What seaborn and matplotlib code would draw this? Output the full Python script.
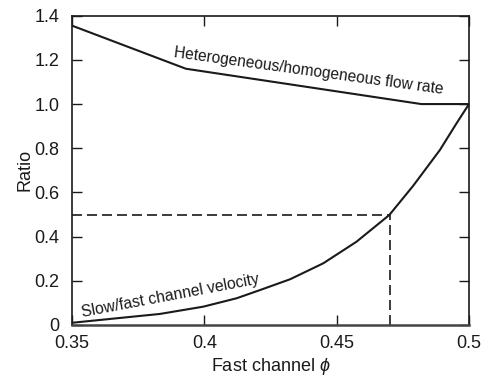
import matplotlib
matplotlib.use("Agg")
import matplotlib.pyplot as plt
import seaborn as sns
import pandas as pd

# Data
phi_upper = [0.35, 0.393, 0.482, 0.5]
ratio_upper = [1.355, 1.16, 1.0, 1.0]

phi_lower = [0.35, 0.3707, 0.3832, 0.3996, 0.4122, 0.4210, 0.4324, 0.4449,
             0.4575, 0.4699, 0.4789, 0.4890, 0.4953, 0.5]
ratio_lower = [0.010, 0.035, 0.050, 0.083, 0.121, 0.158, 0.207, 0.279,
               0.377, 0.498, 0.630, 0.792, 0.913, 1.0]

ref_phi = 0.47
ref_ratio = 0.5

x_ticks = [0.35, 0.4, 0.45, 0.5]
x_ticklabels = ["0.35", "0.4", "0.45", "0.5"]
y_ticks = [0, 0.2, 0.4, 0.6, 0.8, 1.0, 1.2, 1.4]
y_ticklabels = ["0", "0.2", "0.4", "0.6", "0.8", "1.0", "1.2", "1.4"]

label_upper = "Heterogeneous/homogeneous flow rate"
label_lower = "Slow/fast channel velocity"

sns.set_theme(style="ticks")
plt.rcParams['font.family'] = ['Liberation Sans', 'DejaVu Sans']
plt.rcParams['mathtext.fontset'] = 'custom'
plt.rcParams['mathtext.it'] = 'Liberation Sans:italic'
plt.rcParams['mathtext.rm'] = 'Liberation Sans'

fig = plt.figure(figsize=(4.84, 3.81), dpi=100)
ax = fig.add_axes([0.1488, 0.147, 0.8202, 0.8118])

df_u = pd.DataFrame({"phi": phi_upper, "ratio": ratio_upper})
df_l = pd.DataFrame({"phi": phi_lower, "ratio": ratio_lower})

sns.lineplot(data=df_u, x="phi", y="ratio", ax=ax, color="#1a1a1a", lw=1.5,
             sort=True, estimator=None)
sns.lineplot(data=df_l, x="phi", y="ratio", ax=ax, color="#1a1a1a", lw=1.5,
             sort=True, estimator=None)

ax.plot([0.35, ref_phi], [ref_ratio, ref_ratio], color="#1a1a1a", lw=1.2,
        dashes=(6, 3))
ax.plot([ref_phi, ref_phi], [0, ref_ratio], color="#1a1a1a", lw=1.2,
        dashes=(6, 3))

ax.set_xlim(0.35, 0.5)
ax.set_ylim(0, 1.4)
ax.set_xticks(x_ticks)
ax.set_xticklabels(x_ticklabels)
ax.set_yticks(y_ticks)
ax.set_yticklabels(y_ticklabels)

ax.tick_params(axis='both', direction='in', length=7.5, width=1.0,
               colors='#1a1a1a', labelsize=13, top=True, right=True)
ax.tick_params(axis='y', pad=9)
ax.tick_params(axis='x', pad=7)

for s in ax.spines.values():
    s.set_linewidth(1.2)
    s.set_color("#1a1a1a")
ax.spines['bottom'].set_linewidth(1.8)
ax.spines['bottom'].set_color("#444444")

ax.set_xlabel("Fast channel $\\phi$", fontsize=13, labelpad=3, color="#1a1a1a")
ax.set_ylabel("Ratio", fontsize=13, labelpad=1, color="#1a1a1a")

ax.text(0.4390, 1.129, label_upper, fontsize=11.2, rotation=-7.8,
        ha='center', va='baseline', color="#1a1a1a", rotation_mode='anchor')
ax.text(0.3876, 0.111, label_lower, fontsize=11.3, rotation=10.7,
        ha='center', va='baseline', color="#1a1a1a", rotation_mode='anchor')

fig.savefig("out.png", dpi=100)
